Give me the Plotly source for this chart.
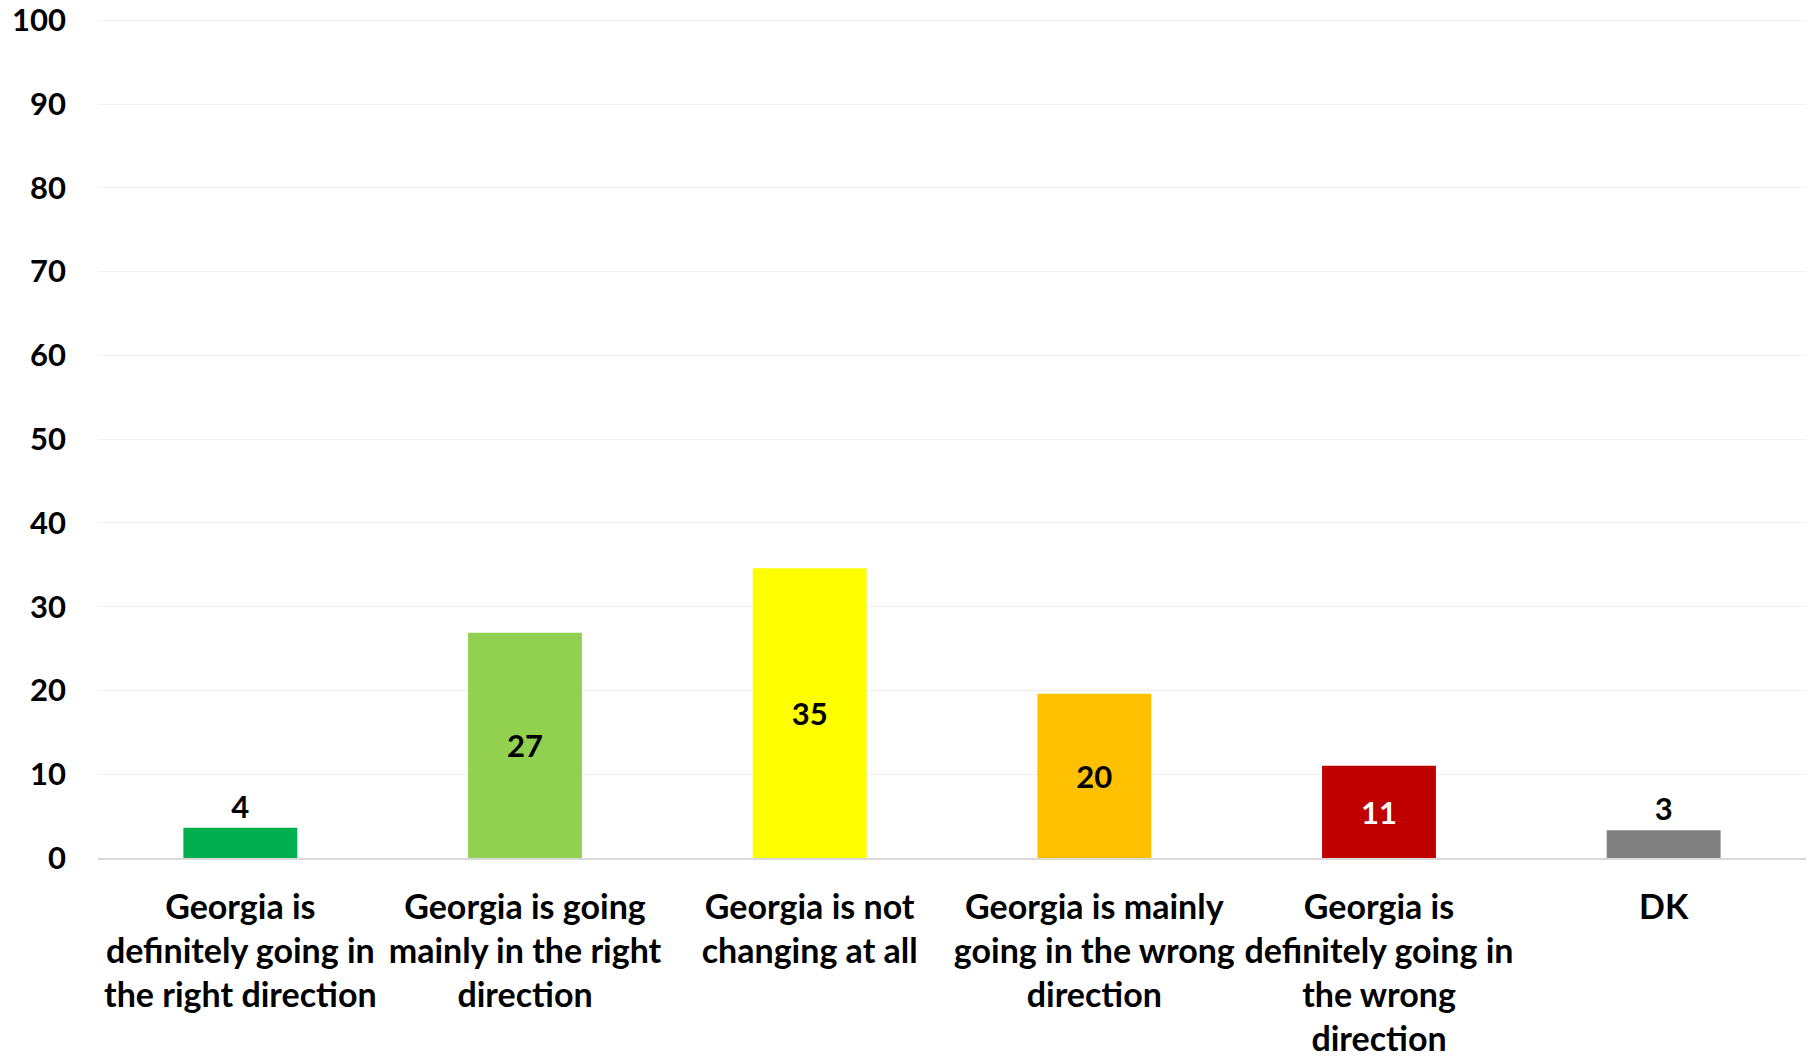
import plotly.graph_objects as go

categories = [
    "Georgia is<br>definitely going in<br>the right direction",
    "Georgia is going<br>mainly in the right<br>direction",
    "Georgia is not<br>changing at all",
    "Georgia is mainly<br>going in the wrong<br>direction",
    "Georgia is<br>definitely going in<br>the wrong<br>direction",
    "DK",
]
values = [3.6, 26.9, 34.6, 19.6, 11.0, 3.3]
bar_colors = ["#00B050", "#92D050", "#FFFF00", "#FFC000", "#C00000", "#808080"]
label_colors = ["#000000", "#000000", "#000000", "#000000", "#FFFFFF", "#000000"]
label_positions = ["outside", "inside", "inside", "inside", "inside", "outside"]
y_ticks = [0, 10, 20, 30, 40, 50, 60, 70, 80, 90, 100]

FONT = "Lato"

fig = go.Figure(
    go.Bar(
        x=categories,
        y=values,
        marker=dict(color=bar_colors, line=dict(width=0)),
        texttemplate="%{y:.0f}",
        textposition=label_positions,
        insidetextanchor="middle",
        textfont=dict(family=FONT, size=31, color=label_colors, weight="bold"),
        cliponaxis=False,
        width=0.4,
        hoverinfo="skip",
    )
)

fig.update_layout(
    width=1816,
    height=1060,
    margin=dict(l=98, r=10, t=19, b=202, autoexpand=False),
    plot_bgcolor="white",
    paper_bgcolor="white",
    showlegend=False,
)

fig.update_xaxes(
    tickfont=dict(family=FONT, size=34, color="#000000", weight="bold"),
    showgrid=False,
    showline=True,
    linecolor="#d9d9d9",
    linewidth=1.5,
    ticks="",
    ticklabelstandoff=18,
    automargin=False,
)

fig.update_yaxes(
    range=[0, 100.15],
    tickvals=y_ticks,
    tickfont=dict(family=FONT, size=31, color="#000000", weight="bold"),
    showgrid=True,
    gridcolor="#f0f0f0",
    gridwidth=1,
    zeroline=False,
    showline=False,
    ticks="",
    ticklabelstandoff=31,
    ticklabeloverflow="allow",
    automargin=False,
)

fig.write_html(
    "out.html",
    config={"displayModeBar": False},
    post_script="document.body.style.margin='0';document.body.style.overflow='hidden';",
)
